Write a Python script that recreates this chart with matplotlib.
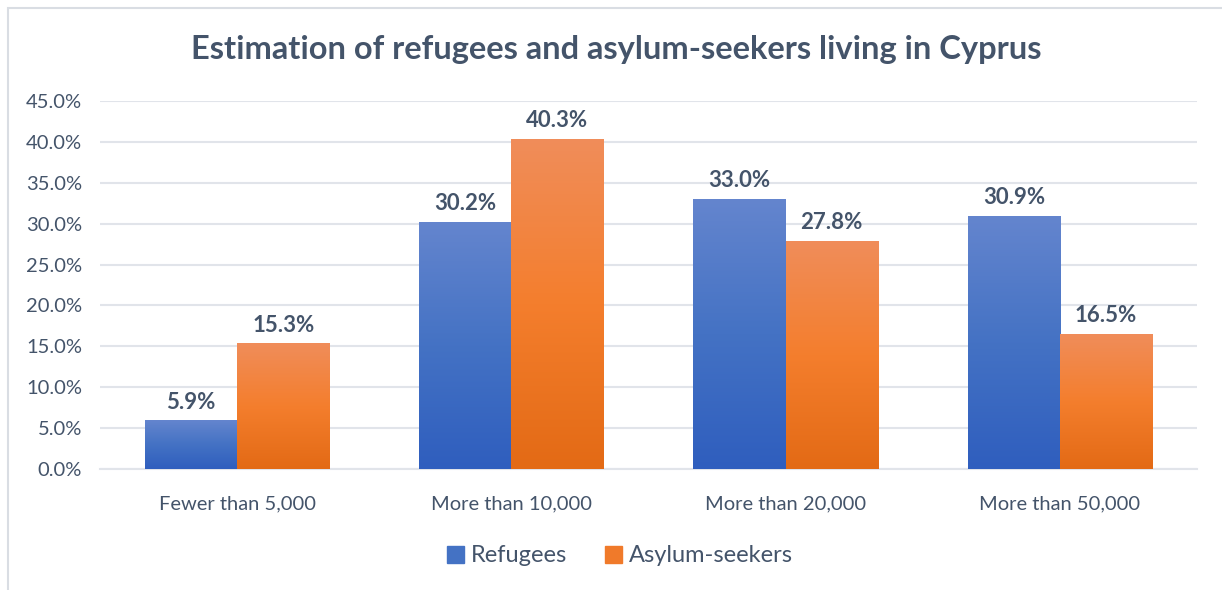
import numpy as np
import matplotlib
matplotlib.use("Agg")
import matplotlib.pyplot as plt
from matplotlib.colors import LinearSegmentedColormap
from matplotlib.patches import Rectangle
from matplotlib.ticker import PercentFormatter

categories = ["Fewer than 5,000", "More than 10,000", "More than 20,000", "More than 50,000"]
refugees = [5.9, 30.2, 33.0, 30.9]
asylum_seekers = [15.3, 40.3, 27.8, 16.5]
series_names = ["Refugees", "Asylum-seekers"]

TEXT = "#44546A"
GRID = "#E1E4EA"
# bottom -> top colours of each bar gradient
blue = LinearSegmentedColormap.from_list("blue", ["#2F5EBE", "#4472C4", "#6485CE"])
orange = LinearSegmentedColormap.from_list("orange", ["#E36A15", "#F47E2D", "#F08D5A"])

plt.rcParams["font.family"] = ["Lato", "DejaVu Sans"]

fig = plt.figure(figsize=(12.22, 5.9), dpi=100)
ax = fig.add_axes([100 / 1222, 1 - 469 / 590, 1097 / 1222, 368 / 590])

# light chart border, clipped on the right and bottom
fig.patches.append(Rectangle((8 / 1222, -0.05), 1.2, 1 - 8 / 590 + 0.05,
                             transform=fig.transFigure, fill=False,
                             edgecolor="#D9DDE3", lw=1.5))

x = np.arange(len(categories))
w = 0.336
grad = np.linspace(0, 1, 256).reshape(-1, 1)


def grad_bars(xs, vals, cmap):
    for xi, v in zip(xs, vals):
        ax.imshow(grad, extent=(xi - w / 2, xi + w / 2, 0, v), origin="lower",
                  cmap=cmap, aspect="auto", zorder=3, interpolation="bilinear")
        ax.text(xi, v + 1.0, f"{v:.1f}%", ha="center", va="bottom",
                fontsize=16, fontweight="bold", color=TEXT, zorder=4)


grad_bars(x - w / 2, refugees, blue)
grad_bars(x + w / 2, asylum_seekers, orange)

ax.set_xlim(-0.5, len(categories) - 0.5)
ax.set_ylim(0, 45)
ax.set_yticks(np.arange(0, 46, 5))
ax.yaxis.set_major_formatter(PercentFormatter(decimals=1))
ax.set_xticks(x)
ax.set_xticklabels(categories)
ax.tick_params(axis="both", length=0, labelsize=14.5, colors=TEXT)
ax.tick_params(axis="y", pad=13)
ax.tick_params(axis="x", pad=19)
ax.grid(axis="y", color=GRID, lw=1.5, zorder=0)
ax.set_axisbelow(True)
for s in ["left", "right", "top"]:
    ax.spines[s].set_visible(False)
ax.spines["bottom"].set_color(GRID)
ax.spines["bottom"].set_linewidth(1.5)

fig.text(616 / 1222, 1 - 50 / 590, "Estimation of refugees and asylum-seekers living in Cyprus",
         ha="center", va="center", fontsize=23.5, fontweight="bold", color=TEXT)

handles = [Rectangle((0, 0), 1, 1, color=c) for c in ("#4472C4", "#F07A2A")]
fig.legend(handles, series_names, loc="center", bbox_to_anchor=(620 / 1222, 1 - 556 / 590),
           ncol=2, frameon=False, fontsize=17, labelcolor=TEXT,
           handlelength=0.7, handleheight=0.7, handletextpad=0.3, columnspacing=1.6)

fig.savefig("out.png", dpi=100)
